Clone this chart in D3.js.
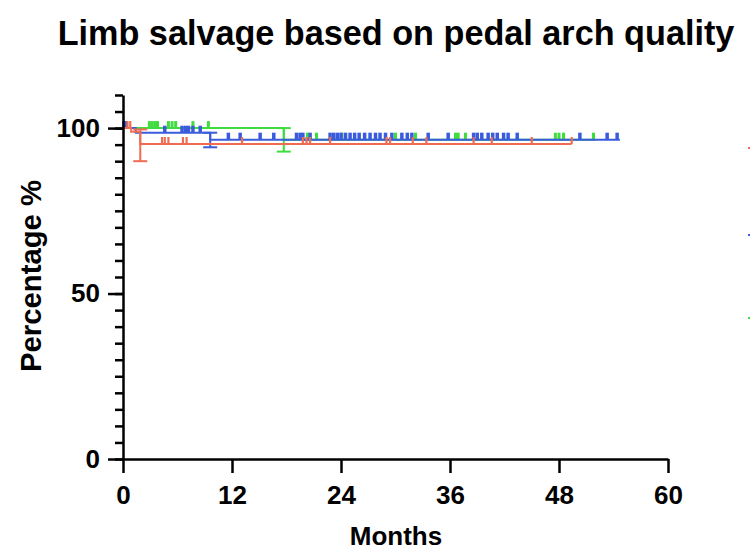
<!DOCTYPE html>
<html>
<head>
<meta charset="utf-8">
<script src="https://cdn.jsdelivr.net/npm/d3@7"></script>
<style>
  html, body { margin: 0; padding: 0; background: #fff; }
  svg { display: block; font-family: "Liberation Sans", Arial, sans-serif; }
</style>
</head>
<body>
<svg width="750" height="552"></svg>
<script>
'use strict';

// survival steps [month, percent] per group
var redSteps = [[0, 100], [0.9, 98.9], [1.9, 95.2]];
var blueSteps = [[0, 100], [1.4, 98.6], [9.6, 96.5]];
var greenSteps = [[0, 100], [17.7, 96.5]];

// last follow-up month per group
var redEnd = 49.4;
var blueEnd = 54.7;
var greenEnd = 52;

// censored times (months)
var redCensor = [0.5, 0.8, 4.3, 4.6, 5.0, 6.6, 7.0, 13.1, 19.8, 20.2, 20.6, 22.8,
  29.0, 29.4, 31.9, 33.4, 38.6, 40.6, 45.0, 49.4];
var blueCensor = [0.1, 0.3, 4.6, 6.5, 6.9, 7.2, 7.7, 8.5, 11.6, 12.9, 15.1, 16.6,
  19.1, 19.5, 19.8, 20.6, 22.8, 23.2, 23.6, 24.0, 24.5, 25.0, 25.5, 26.0, 26.6,
  27.2, 27.8, 28.3, 28.9, 29.6, 30.7, 31.3, 31.8, 33.6, 35.8, 38.6, 39.0, 39.5,
  40.2, 40.7, 41.2, 41.9, 42.4, 43.4, 50.3, 53.3, 54.4];
var greenCensor = [2.9, 3.2, 3.5, 3.8, 5.0, 5.4, 5.8, 7.7, 9.4, 20.3, 21.3, 24.1,
  30.0, 32.2, 36.6, 36.9, 37.7, 47.6, 48.0, 48.5, 51.8];

// error bars [month, low, high]
var redErr = [[1.9, 90, 99.6]];
var blueErr = [[9.6, 94.2, 98.6]];
var greenErr = [[17.7, 92.9, 100]];

var xTicks = [0, 12, 24, 36, 48, 60];
var yMajor = [0, 50, 100];
var yMinor = d3.range(0, 111, 5);

(() => {
  var svg = d3.select('svg');
  var x = d3.scaleLinear().domain([0, 60]).range([123, 668]);
  var y = d3.scaleLinear().domain([0, 110]).range([459, 95]);

  var fit = (sel, target) => {
    var fs = parseFloat(sel.attr('font-size'));
    var len = sel.node().getComputedTextLength();
    sel.attr('font-size', fs * target / len);
  };

  var groups = [
    {steps: greenSteps, end: greenEnd, censor: greenCensor, err: greenErr, color: '#3fdc3f', tw: 3},
    {steps: blueSteps, end: blueEnd, censor: blueCensor, err: blueErr, color: '#3a5bdc', tw: 3.5},
    {steps: redSteps, end: redEnd, censor: redCensor, err: redErr, color: '#ef6c52', tw: 2.2}
  ];

  var levelAt = (steps, t) => {
    var v = steps[0][1];
    steps.forEach(s => { if (s[0] <= t) v = s[1]; });
    return v;
  };

  groups.forEach(g => {
    var pts = g.steps.concat([[g.end, g.steps[g.steps.length - 1][1]]]);
    var line = d3.line().x(d => x(d[0])).y(d => y(d[1])).curve(d3.curveStepAfter);
    var grp = svg.append('g');

    grp.selectAll('line.err').data(g.err).enter().append('line')
      .attr('x1', d => x(d[0])).attr('x2', d => x(d[0]))
      .attr('y1', d => y(d[1])).attr('y2', d => y(d[2]))
      .attr('stroke', g.color).attr('stroke-width', 2);
    g.err.forEach(d => {
      [d[1], d[2]].forEach(v => {
        grp.append('line')
          .attr('x1', x(d[0]) - 7).attr('x2', x(d[0]) + 7)
          .attr('y1', y(v)).attr('y2', y(v))
          .attr('stroke', g.color).attr('stroke-width', 2);
      });
    });

    grp.append('path')
      .attr('d', line(pts))
      .attr('fill', 'none')
      .attr('stroke', g.color)
      .attr('stroke-width', 2);

    grp.selectAll('line.cens').data(g.censor).enter().append('line')
      .attr('x1', d => x(d)).attr('x2', d => x(d))
      .attr('y1', d => y(levelAt(g.steps, d)))
      .attr('y2', d => y(levelAt(g.steps, d)) - 7)
      .attr('stroke', g.color)
      .attr('stroke-width', g.tw);
  });

  // legend stubs cut off at the right edge
  var legendY = [148, 235, 318];
  ['#ef6c52', '#3a5bdc', '#3fdc3f'].forEach((c, i) => {
    svg.append('line')
      .attr('x1', 748).attr('x2', 760)
      .attr('y1', legendY[i]).attr('y2', legendY[i])
      .attr('stroke', c).attr('stroke-width', 2);
  });

  var styleAxis = ax => {
    ax.selectAll('path, line').attr('stroke', '#000').attr('stroke-width', 2.5);
    ax.selectAll('text')
      .attr('fill', '#000')
      .attr('font-size', 26)
      .attr('font-weight', 'bold')
      .attr('font-family', '"Liberation Sans", Arial, sans-serif');
  };

  var yMin = svg.append('g')
    .attr('transform', `translate(${x(0)},0)`)
    .call(d3.axisLeft(y).tickValues(yMinor).tickSize(8).tickSizeOuter(0).tickFormat(''));
  styleAxis(yMin);

  var yAx = svg.append('g')
    .attr('transform', `translate(${x(0)},0)`)
    .call(d3.axisLeft(y).tickValues(yMajor).tickSize(15).tickSizeOuter(0).tickPadding(8));
  styleAxis(yAx);
  yAx.select('path').remove();

  var xAx = svg.append('g')
    .attr('transform', `translate(0,${y(0)})`)
    .call(d3.axisBottom(x).tickValues(xTicks).tickSize(14).tickSizeOuter(0).tickPadding(13));
  styleAxis(xAx);

  var title = svg.append('text')
    .attr('x', 396).attr('y', 45)
    .attr('text-anchor', 'middle')
    .attr('font-size', 28).attr('font-weight', 'bold')
    .text('Limb salvage based on pedal arch quality');
  fit(title, 677);

  svg.append('text')
    .attr('x', 396).attr('y', 545)
    .attr('text-anchor', 'middle')
    .attr('font-size', 26).attr('font-weight', 'bold')
    .text('Months');

  var yl = svg.append('text')
    .attr('transform', 'translate(41,276) rotate(-90)')
    .attr('text-anchor', 'middle')
    .attr('font-size', 26).attr('font-weight', 'bold')
    .text('Percentage %');
  fit(yl, 192);
})();
</script>
</body>
</html>
